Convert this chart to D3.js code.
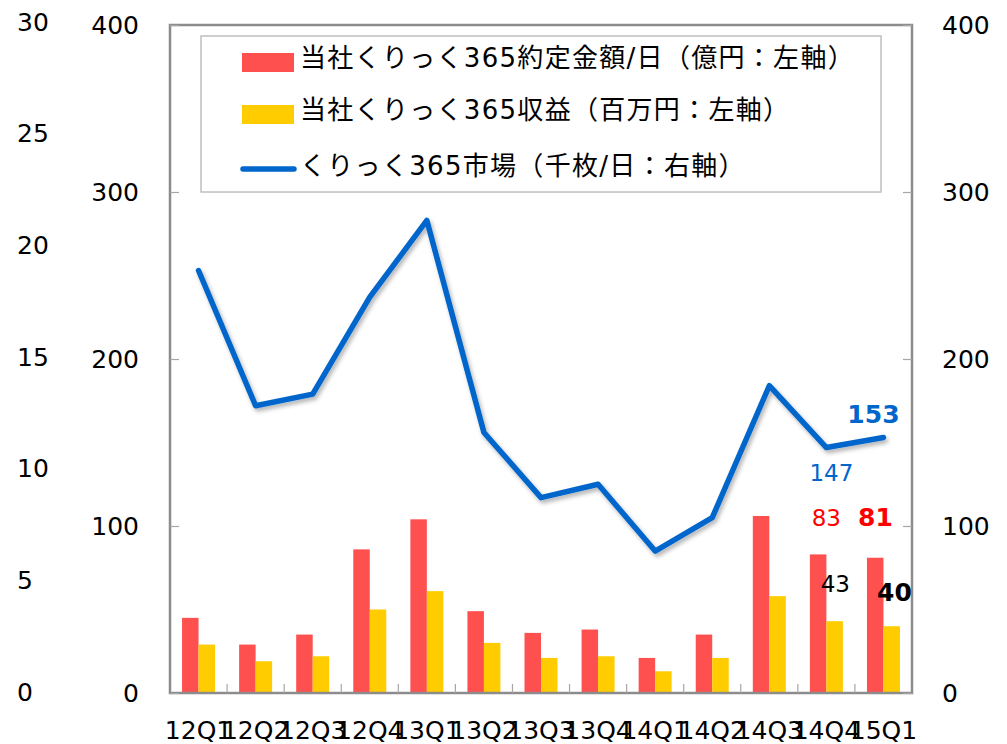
<!DOCTYPE html>
<html>
<head>
<meta charset="utf-8">
<script src="https://cdn.jsdelivr.net/npm/d3@7"></script>
<style>
	body { margin: 0; background: #fff; }
	text { font-family: "DejaVu Sans", Verdana, sans-serif; fill: #000; }
	.legend text { font-family: "DejaVu Sans", "Noto Sans CJK JP", sans-serif; }
</style>
</head>
<body>
<svg id="chart" width="1007" height="744"></svg>
<script>
const quarters = ["12Q1", "12Q2", "12Q3", "12Q4", "13Q1", "13Q2", "13Q3", "13Q4", "14Q1", "14Q2", "14Q3", "14Q4", "15Q1"]
// 約定金額/日（億円）
const amount = [45, 29, 35, 86, 104, 49, 36, 38, 21, 35, 106, 83, 81]
// 収益（百万円）
const revenue = [29, 19, 22, 50, 61, 30, 21, 22, 13, 21, 58, 43, 40]
// くりっく365市場（千枚/日）
const market = [253, 172, 179, 237, 283, 156, 117, 125, 85, 105, 184, 147, 153]
const leftTicks = [0, 100, 200, 300, 400]
const outerTicks = [0, 5, 10, 15, 20, 25, 30]
const legendItems = [
	{ label: "当社くりっく365約定金額/日（億円：左軸）", color: "#ff5050", type: "rect" },
	{ label: "当社くりっく365収益（百万円：左軸）", color: "#ffcc00", type: "rect" },
	{ label: "くりっく365市場（千枚/日：右軸）", color: "#0066cc", type: "line" }
]

const svg = d3.select("#chart")
const plot = { left: 170, right: 912, top: 25, bottom: 693 }

const x = d3.scaleBand().domain(quarters).range([plot.left, plot.right])
const xs = d3.scaleBand().domain(["amount", "revenue"]).range([0, x.bandwidth()]).paddingOuter(0.73)
const y = d3.scaleLinear().domain([0, 400]).range([plot.bottom, plot.top])
const yRight = d3.scaleLinear().domain([0, 400]).range([plot.bottom, plot.top])
const yOuter = d3.scaleLinear().domain([0, 30]).range([692, 22])

const defs = svg.append("defs")
defs.append("filter")
	.attr("id", "shadow")
	.attr("x", "-10%").attr("y", "-10%").attr("width", "120%").attr("height", "120%")
	.append("feDropShadow")
	.attr("dx", 2).attr("dy", 3).attr("stdDeviation", 2)
	.attr("flood-color", "#000").attr("flood-opacity", 0.3)

// bars
const series = [
	{ key: "amount", values: amount, color: "#ff5050" },
	{ key: "revenue", values: revenue, color: "#ffcc00" }
]
svg.append("g")
	.selectAll("g")
	.data(series)
	.enter()
	.append("g")
	.attr("fill", s => s.color)
	.selectAll("rect")
	.data(s => s.values.map((v, i) => ({ key: s.key, q: quarters[i], v })))
	.enter()
	.append("rect")
	.attr("x", d => x(d.q) + xs(d.key))
	.attr("y", d => y(d.v))
	.attr("width", xs.bandwidth())
	.attr("height", d => plot.bottom - y(d.v))

// plot frame
svg.append("rect")
	.attr("x", plot.left).attr("y", plot.top)
	.attr("width", plot.right - plot.left).attr("height", plot.bottom - plot.top)
	.attr("fill", "none")
	.attr("stroke", "#8c8c8c")
	.attr("stroke-width", 2.5)

// category separators
svg.append("g")
	.selectAll("line")
	.data(quarters.slice(1))
	.enter()
	.append("line")
	.attr("x1", q => x(q)).attr("x2", q => x(q))
	.attr("y1", plot.bottom).attr("y2", plot.bottom - 9)
	.attr("stroke", "#a6a6a6")
	.attr("stroke-width", 1.2)

// axes
const styleAxis = g => {
	g.select(".domain").remove()
	g.selectAll(".tick line").attr("stroke", "#a6a6a6").attr("stroke-width", 1.2)
	g.selectAll("text").style("font-size", "25px").attr("fill", "#000")
}
svg.append("g")
	.attr("transform", `translate(${plot.left},0)`)
	.call(d3.axisLeft(y).tickValues(leftTicks).tickSizeInner(-9).tickSizeOuter(0).tickPadding(31))
	.call(styleAxis)
svg.append("g")
	.attr("transform", `translate(${plot.right},0)`)
	.call(d3.axisRight(yRight).tickValues(leftTicks).tickSizeInner(-9).tickSizeOuter(0).tickPadding(30))
	.call(styleAxis)
svg.append("g")
	.attr("transform", "translate(17,0)")
	.call(d3.axisRight(yOuter).tickValues(outerTicks).tickSize(0).tickPadding(0))
	.call(styleAxis)
	.call(g => g.selectAll(".tick line").remove())
svg.append("g")
	.attr("transform", `translate(0,${plot.bottom})`)
	.call(d3.axisBottom(x).tickSize(0).tickPadding(28))
	.call(styleAxis)

// market line
const line = d3.line()
	.x((d, i) => x(quarters[i]) + x.bandwidth() / 2)
	.y(d => yRight(d))
svg.append("path")
	.datum(market)
	.attr("d", line)
	.attr("fill", "none")
	.attr("stroke", "#0066cc")
	.attr("stroke-width", 5.5)
	.attr("stroke-linejoin", "round")
	.attr("stroke-linecap", "round")
	.attr("filter", "url(#shadow)")

// data labels for last two quarters
const cx = q => x(q) + x.bandwidth() / 2
const labels = [
	{ q: "14Q4", v: market[11], sy: yRight, dx: 5, dy: 25, color: "#0066cc", bold: false },
	{ q: "15Q1", v: market[12], sy: yRight, dx: -10, dy: -23, color: "#0066cc", bold: true },
	{ q: "14Q4", v: amount[11], sy: y, dx: 0, dy: -36, color: "#ff0000", bold: false },
	{ q: "15Q1", v: amount[12], sy: y, dx: -8, dy: -40, color: "#ff0000", bold: true },
	{ q: "14Q4", v: revenue[11], sy: y, dx: 9, dy: -37, color: "#000", bold: false },
	{ q: "15Q1", v: revenue[12], sy: y, dx: 11, dy: -34, color: "#000", bold: true }
]
svg.append("g")
	.selectAll("text")
	.data(labels)
	.enter()
	.append("text")
	.attr("x", d => cx(d.q) + d.dx)
	.attr("y", d => d.sy(d.v) + d.dy)
	.attr("text-anchor", "middle")
	.attr("dominant-baseline", "central")
	.style("fill", d => d.color)
	.style("font-size", d => d.bold ? "25px" : "23px")
	.style("font-weight", d => d.bold ? "bold" : "normal")
	.text(d => d.v)

// legend
const legend = svg.append("g").attr("class", "legend")
legend.append("rect")
	.attr("x", 201).attr("y", 36)
	.attr("width", 680).attr("height", 156)
	.attr("fill", "#fff")
	.attr("stroke", "#bfbfbf")
	.attr("stroke-width", 1.5)
const item = legend.selectAll(".item")
	.data(legendItems)
	.enter()
	.append("g")
	.attr("class", "item")
	.attr("transform", (d, i) => `translate(0,${60 + i * 52})`)
item.filter(d => d.type == "rect")
	.append("rect")
	.attr("x", 242).attr("y", -7)
	.attr("width", 52).attr("height", 19)
	.attr("fill", d => d.color)
item.filter(d => d.type == "line")
	.append("line")
	.attr("x1", 243).attr("x2", 294)
	.attr("y1", 5).attr("y2", 5)
	.attr("stroke", d => d.color)
	.attr("stroke-width", 5.5)
	.attr("stroke-linecap", "round")
item.append("text")
	.attr("x", 300)
	.attr("y", (d, i) => i == 2 ? 2 : -2)
	.attr("dominant-baseline", "central")
	.style("font-size", "26px")
	.style("letter-spacing", "1.3px")
	.text(d => d.label)
</script>
</body>
</html>
